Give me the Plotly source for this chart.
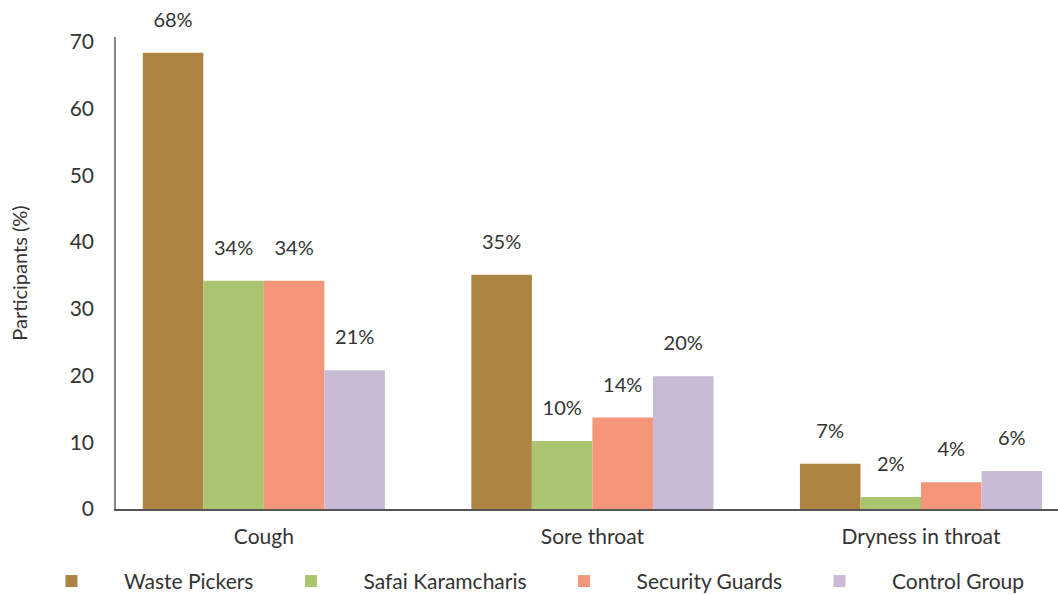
import plotly.graph_objects as go

categories = ["Cough", "Sore throat", "Dryness in throat"]
series_names = ["Waste Pickers", "Safai Karamcharis", "Security Guards", "Control Group"]
waste_pickers = [68.4, 35.1, 6.8]
safai_karamcharis = [34.2, 10.2, 1.8]
security_guards = [34.2, 13.7, 4.0]
control_group = [20.8, 19.9, 5.7]
labels = [["68%", "35%", "7%"], ["34%", "10%", "2%"], ["34%", "14%", "4%"], ["21%", "20%", "6%"]]
colors = ["#AD8441", "#ABC470", "#F4967A", "#C9BBD6"]

values = [waste_pickers, safai_karamcharis, security_guards, control_group]
FONT = "Lato, 'Open Sans', sans-serif"

fig = go.Figure()
for name, vals, col in zip(series_names, values, colors):
    fig.add_trace(go.Bar(x=categories, y=vals, name=name, marker_color=col,
                         marker_line_width=0, hoverinfo="skip"))
for name, vals, lab in zip(series_names, values, labels):
    fig.add_trace(go.Scatter(x=categories, y=vals, text=lab, mode="text+markers",
                             textposition="top center", showlegend=False, cliponaxis=False,
                             marker=dict(size=32, opacity=0),
                             textfont=dict(family=FONT, size=20, color="#333333"),
                             hoverinfo="skip"))

fig.update_layout(
    width=1058, height=595,
    barmode="group", bargap=0.263, bargroupgap=0,
    scattermode="group", scattergap=0.263,
    plot_bgcolor="white", paper_bgcolor="white",
    margin=dict(l=116, r=0, t=37, b=86, autoexpand=False),
    font=dict(family=FONT, size=20, color="#333333"),
    xaxis=dict(range=[-0.45, 2.417], showline=True, linecolor="#555555", linewidth=1.5,
               ticks="", tickfont=dict(size=21), showgrid=False, zeroline=False,
               automargin=False, ticklabelstandoff=8),
    yaxis=dict(range=[0, 70.75], dtick=10, showline=True, linecolor="#888888", linewidth=1.5,
               showgrid=False, zeroline=False, ticks="", tickfont=dict(size=21),
               automargin=False, ticklabelstandoff=16,
               title=dict(text="Participants (%)", font=dict(size=20), standoff=37)),
    legend=dict(orientation="h", x=-0.103, xanchor="left", y=-0.11, yanchor="top",
                font=dict(size=21), traceorder="normal", itemwidth=95),
    showlegend=True,
)

fig.write_html("out.html", post_script="document.body.style.margin='0';",
               config={"displayModeBar": False})
